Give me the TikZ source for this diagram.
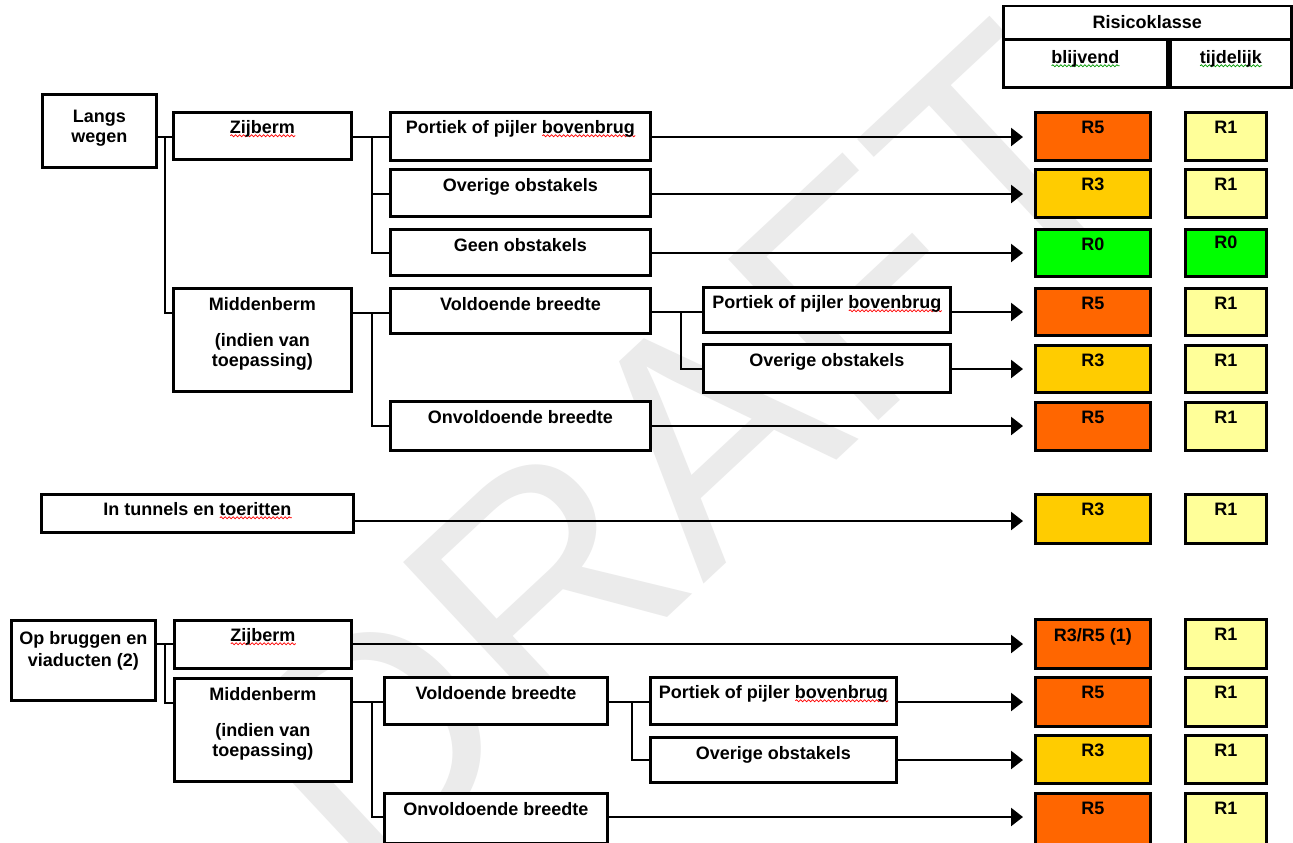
\documentclass[tikz,border=0pt]{standalone}
\usepackage{fontspec}
\setmainfont{Liberation Sans}
\usetikzlibrary{arrows.meta,decorations.pathmorphing}

\definecolor{rfive}{RGB}{255,102,0}
\definecolor{rthree}{RGB}{255,204,0}
\definecolor{rzero}{RGB}{0,255,0}
\definecolor{rone}{RGB}{255,255,153}

% wavy spell-check line under a word
\newcommand\spellwave[2]{\setbox0\hbox{#2}\rlap{\tikz[baseline=0pt]\draw[#1,line width=.8pt,decorate,decoration={snake,amplitude=1pt,segment length=4pt}] (0pt,-2.5pt) -- (\the\wd0,-2.5pt);}\box0}

\begin{document}
\begin{tikzpicture}[x=1pt,y=-1pt,line width=2.5pt,
  box/.style={draw,line width=2.9pt,fill=white,anchor=north west,inner sep=0pt},
  txt/.style={anchor=north,yshift=-9pt,align=center,inner sep=0pt,font=\bfseries\fontsize{18}{20}\selectfont},
  bcell/.style={box,minimum width=115},
  tcell/.style={box,minimum width=81},
  arr/.style={-{Triangle[length=12pt,width=18pt]},shorten >=11pt}]
  \useasboundingbox (0,0) rectangle (1293,843);
  \fill[white] (0,0) rectangle (1293,843);
  \node[rotate=43,text=black!8,font=\fontsize{320}{320}\selectfont] (draft) at (680,455) {DRAFT};

  % langs wegen
  \node[box,minimum width=114,minimum height=73,label={[txt,yshift=-7pt]north:Langs\\wegen}] (lan) at (41,93) {};
  \node[box,minimum width=178,minimum height=47,label={[txt]north:\spellwave{red}{Zijberm}}] (zij1) at (172,111) {};
  \node[box,minimum width=178,minimum height=103,label={[txt]north:Middenberm\\[16pt](indien van\\toepassing)}] (mid1) at (172,287) {};
  \node[box,minimum width=260,minimum height=48,label={[txt]north:Portiek of pijler \spellwave{red}{bovenbrug}}] (zpo) at (389,111) {};
  \node[box,minimum width=260,minimum height=47,label={[txt]north:Overige obstakels}] (zov) at (389,168) {};
  \node[box,minimum width=260,minimum height=46,label={[txt]north:Geen obstakels}] (zge) at (389,228) {};
  \node[box,minimum width=260,minimum height=45,label={[txt]north:Voldoende breedte}] (mvo) at (389,287) {};
  \node[box,minimum width=260,minimum height=49,label={[txt]north:Onvoldoende breedte}] (mon) at (389,400) {};
  \node[box,minimum width=247,minimum height=45,label={[txt]north:Portiek of pijler \spellwave{red}{bovenbrug}}] (mpo) at (702,286) {};
  \node[box,minimum width=247,minimum height=48,label={[txt]north:Overige obstakels}] (mov) at (702,343) {};

  % tunnels
  \node[box,minimum width=312,minimum height=38,label={[txt]north:In tunnels en \spellwave{red}{toeritten}}] (tun) at (40,493) {};

  % bruggen en viaducten
  \node[box,minimum width=144,minimum height=80,label={[txt,yshift=-2pt]north:Op bruggen en\\[2pt]viaducten (2)}] (opb) at (10,619) {};
  \node[box,minimum width=177,minimum height=48,label={[txt]north:\spellwave{red}{Zijberm}}] (zij2) at (173,619) {};
  \node[box,minimum width=177,minimum height=103,label={[txt]north:Middenberm\\[16pt](indien van\\toepassing)}] (mid2) at (173,677) {};
  \node[box,minimum width=223,minimum height=47,label={[txt]north:Voldoende breedte}] (bvo) at (383,676) {};
  \node[box,minimum width=223,minimum height=50,label={[txt]north:Onvoldoende breedte}] (bon) at (383,792) {};
  \node[box,minimum width=246,minimum height=47,label={[txt]north:Portiek of pijler \spellwave{red}{bovenbrug}}] (bpo) at (649,676) {};
  \node[box,minimum width=246,minimum height=45,label={[txt]north:Overige obstakels}] (bov) at (649,736) {};

  % risicoklasse
  \node[box,line width=2.5pt,minimum width=288,minimum height=33,label={[txt]north:Risicoklasse}] (hdr) at (1002,5) {};
  \node[box,line width=2.5pt,minimum width=164,minimum height=47,label={[txt,yshift=-2pt]north:\spellwave{green!60!black}{blijvend}}] (bli) at (1002,39) {};
  \node[box,line width=2.5pt,minimum width=121,minimum height=47,label={[txt,yshift=-2pt]north:\spellwave{green!60!black}{tijdelijk}}] (tij) at (1169,39) {};

  \node[bcell,fill=rfive,minimum height=48,label={[txt]north:R5}] (b1) at (1034,111) {};
  \node[bcell,fill=rthree,minimum height=48,label={[txt]north:R3}] (b2) at (1034,168) {};
  \node[bcell,fill=rzero,minimum height=47,label={[txt]north:R0}] (b3) at (1034,228) {};
  \node[bcell,fill=rfive,minimum height=47,label={[txt]north:R5}] (b4) at (1034,287) {};
  \node[bcell,fill=rthree,minimum height=47,label={[txt]north:R3}] (b5) at (1034,344) {};
  \node[bcell,fill=rfive,minimum height=48,label={[txt]north:R5}] (b6) at (1034,401) {};
  \node[bcell,fill=rthree,minimum height=49,label={[txt]north:R3}] (b7) at (1034,493) {};
  \node[bcell,fill=rfive,minimum height=49,label={[txt]north:R3/R5 (1)}] (b8) at (1034,618) {};
  \node[bcell,fill=rfive,minimum height=49,label={[txt]north:R5}] (b9) at (1034,676) {};
  \node[bcell,fill=rthree,minimum height=48,label={[txt]north:R3}] (b10) at (1034,734) {};
  \node[bcell,fill=rfive,minimum height=52,label={[txt]north:R5}] (b11) at (1034,792) {};

  \node[tcell,fill=rone,minimum height=48,label={[txt]north:R1}] (t1) at (1184,111) {};
  \node[tcell,fill=rone,minimum height=48,label={[txt]north:R1}] (t2) at (1184,168) {};
  \node[tcell,fill=rzero,minimum height=47,label={[txt,yshift=2pt]north:R0}] (t3) at (1184,228) {};
  \node[tcell,fill=rone,minimum height=47,label={[txt]north:R1}] (t4) at (1184,287) {};
  \node[tcell,fill=rone,minimum height=47,label={[txt]north:R1}] (t5) at (1184,344) {};
  \node[tcell,fill=rone,minimum height=48,label={[txt]north:R1}] (t6) at (1184,401) {};
  \node[tcell,fill=rone,minimum height=49,label={[txt]north:R1}] (t7) at (1184,493) {};
  \node[tcell,fill=rone,minimum height=49,label={[txt]north:R1}] (t8) at (1184,618) {};
  \node[tcell,fill=rone,minimum height=49,label={[txt]north:R1}] (t9) at (1184,676) {};
  \node[tcell,fill=rone,minimum height=48,label={[txt]north:R1}] (t10) at (1184,734) {};
  \node[tcell,fill=rone,minimum height=52,label={[txt]north:R1}] (t11) at (1184,792) {};

  % forks
  \draw ([yshift=-26pt]zij1.north west) coordinate (h0) -- (h0 -| lan.east);
  \draw ([yshift=-26pt]mid1.north west) -- ++(-7,0) |- (h0);
  \draw ([yshift=-26pt]zpo.north west) coordinate (h1) -- (h1 -| zij1.east);
  \draw ([yshift=-26pt]zov.north west) -- ++(-17,0) |- (h1);
  \draw ([yshift=-25pt]zge.north west) -- ++(-17,0) |- (h1);
  \draw ([yshift=-26pt]mvo.north west) coordinate (h2) -- (h2 -| mid1.east);
  \draw ([yshift=-26pt]mon.north west) -- ++(-17,0) |- (h2);
  \draw ([yshift=-26pt]mpo.north west) coordinate (h3) -- (h3 -| mvo.east);
  \draw ([yshift=-26pt]mov.north west) -- ++(-21,0) |- (h3);
  \draw ([yshift=-25pt]zij2.north west) coordinate (h4) -- (h4 -| opb.east);
  \draw ([yshift=-26pt]mid2.north west) -- ++(-8,0) |- (h4);
  \draw ([yshift=-26pt]bvo.north west) coordinate (h5) -- (h5 -| mid2.east);
  \draw ([yshift=-25pt]bon.north west) -- ++(-11,0) |- (h5);
  \draw ([yshift=-26pt]bpo.north west) coordinate (h6) -- (h6 -| bvo.east);
  \draw ([yshift=-24pt]bov.north west) -- ++(-17,0) |- (h6);

  % arrows
  \draw[arr] ([yshift=-26pt]zpo.north east) coordinate (a1) -- (a1 -| b1.west);
  \draw[arr] ([yshift=-26pt]zov.north east) coordinate (a2) -- (a2 -| b2.west);
  \draw[arr] ([yshift=-25pt]zge.north east) coordinate (a3) -- (a3 -| b3.west);
  \draw[arr] ([yshift=-26pt]mpo.north east) coordinate (a4) -- (a4 -| b4.west);
  \draw[arr] ([yshift=-26pt]mov.north east) coordinate (a5) -- (a5 -| b5.west);
  \draw[arr] ([yshift=-26pt]mon.north east) coordinate (a6) -- (a6 -| b6.west);
  \draw[arr] ([yshift=-28pt]tun.north east) coordinate (a7) -- (a7 -| b7.west);
  \draw[arr] ([yshift=-25pt]zij2.north east) coordinate (a8) -- (a8 -| b8.west);
  \draw[arr] ([yshift=-26pt]bpo.north east) coordinate (a9) -- (a9 -| b9.west);
  \draw[arr] ([yshift=-24pt]bov.north east) coordinate (a10) -- (a10 -| b10.west);
  \draw[arr] ([yshift=-25pt]bon.north east) coordinate (a11) -- (a11 -| b11.west);
\end{tikzpicture}
\end{document}
